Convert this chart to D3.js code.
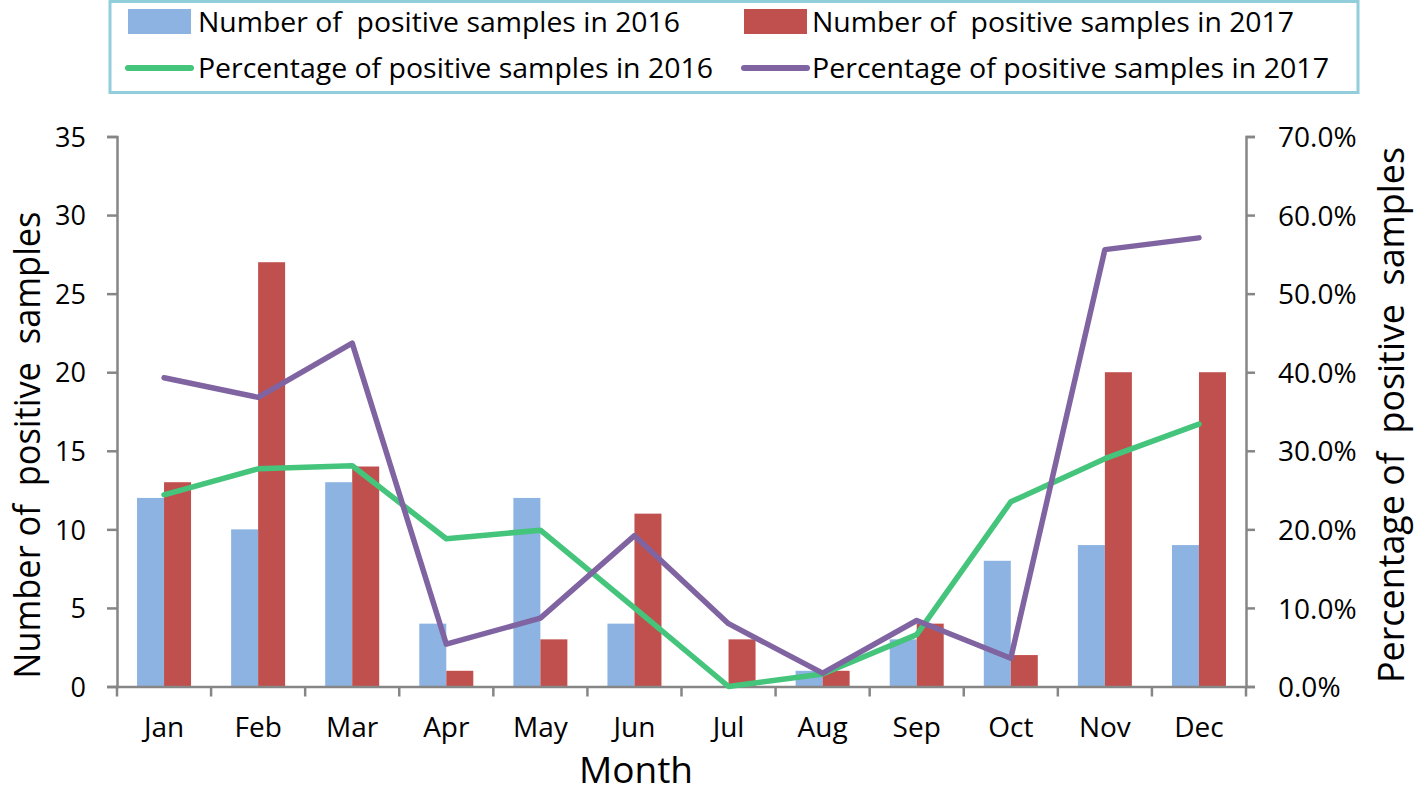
<!DOCTYPE html>
<html><head><meta charset="utf-8">
<script src="https://cdn.jsdelivr.net/npm/d3@7/dist/d3.min.js"></script>
<style>body{margin:0;background:#fff}svg{display:block}text{white-space:pre}</style>
</head><body><svg id="c" width="1418" height="794"></svg>
<script>
const months = ["Jan","Feb","Mar","Apr","May","Jun","Jul","Aug","Sep","Oct","Nov","Dec"];
const count2016 = [12,10,13,4,12,4,0,1,3,8,9,9];
const count2017 = [13,27,14,1,3,11,3,1,4,2,20,20];
const pct2016 = [24.4,27.7,28.1,18.8,19.9,10.0,0.0,1.6,6.6,23.5,29.0,33.4];
const pct2017 = [39.3,36.8,43.7,5.4,8.7,19.2,8.0,1.7,8.4,3.6,55.6,57.1];
const leftTicks = [0,5,10,15,20,25,30,35];
const rightTicks = [0,10,20,30,40,50,60,70];
const legendLabels = ["Number of  positive samples in 2016","Number of  positive samples in 2017","Percentage of positive samples in 2016","Percentage of positive samples in 2017"];

const colBlue="#8db3e2", colRed="#c0504d", colGreen="#45c47c", colPurple="#8064a2", axisCol="#868686";
const svg = d3.select("#c");
const L=117, R=1246, T=136.5, B=686.5;
const x = d3.scaleBand().domain(months).range([L,R]).paddingInner(0.426).paddingOuter(0.213);
const xs = d3.scaleBand().domain(["a","b"]).range([0,x.bandwidth()]);
const xc = d3.scaleBand().domain(months).range([L,R]);
const y = d3.scaleLinear().domain([0,35]).range([B,T]);
const y2 = d3.scaleLinear().domain([0,70]).range([B,T]);
const font = "'Open Sans', 'DejaVu Sans', sans-serif";

// bars
const g = svg.append("g");
g.selectAll(".b1").data(months).enter().append("rect")
  .attr("x",(d)=>x(d)+xs("a")).attr("width",xs.bandwidth())
  .attr("y",(d,i)=>y(count2016[i])).attr("height",(d,i)=>B-y(count2016[i])).attr("fill",colBlue);
g.selectAll(".b2").data(months).enter().append("rect")
  .attr("x",(d)=>x(d)+xs("b")).attr("width",xs.bandwidth())
  .attr("y",(d,i)=>y(count2017[i])).attr("height",(d,i)=>B-y(count2017[i])).attr("fill",colRed);

// axes
const axL = svg.append("g").attr("transform",`translate(${L},0)`)
  .call(d3.axisLeft(y).tickValues(leftTicks).tickSize(10).tickPadding(21).tickFormat(d3.format("d")));
const axR = svg.append("g").attr("transform",`translate(${R},0)`)
  .call(d3.axisRight(y2).tickValues(rightTicks).tickSize(9).tickPadding(23).tickFormat(d=>d.toFixed(1)+"%"));
const axB = svg.append("g").attr("transform",`translate(0,${B})`)
  .call(d3.axisBottom(xc).tickSize(0).tickPadding(32));
// boundary ticks on x axis
svg.append("g").selectAll("line").data(d3.range(13)).enter().append("line")
  .attr("x1",i=>L+i*xc.step()).attr("x2",i=>L+i*xc.step()).attr("y1",B).attr("y2",B+10)
  .attr("stroke",axisCol).attr("stroke-width",2.5);
[axL,axR,axB].forEach(a=>{
  a.selectAll("path,line").attr("stroke",axisCol).attr("stroke-width",2.5);
  a.selectAll("text").attr("font-family",font).attr("fill","#000");
});
axL.selectAll("text").attr("font-size",27).attr("dy","0.36em");
axR.selectAll("text").attr("font-size",28).attr("dy","0.36em").attr("text-anchor","start");
axB.selectAll("text").attr("font-size",28).attr("y",737-B).attr("dy",0);
axB.select(".domain").attr("d",`M${L},0.5H${R}`);

// lines
const line = (arr)=>d3.line().x((d,i)=>xc(months[i])+xc.bandwidth()/2).y(d=>y2(d))(arr);
svg.append("path").attr("d",line(pct2016)).attr("fill","none").attr("stroke",colGreen).attr("stroke-width",5.5).attr("stroke-linejoin","round").attr("stroke-linecap","round");
svg.append("path").attr("d",line(pct2017)).attr("fill","none").attr("stroke",colPurple).attr("stroke-width",5.5).attr("stroke-linejoin","round").attr("stroke-linecap","round");

// axis titles
svg.append("text").attr("transform",`translate(40,445) rotate(-90)`).attr("text-anchor","middle")
  .attr("font-family",font).attr("font-size",37).attr("textLength",467).attr("lengthAdjust","spacingAndGlyphs")
  .text("Number of  positive  samples");
svg.append("text").attr("transform",`translate(1404,415) rotate(-90)`).attr("text-anchor","middle")
  .attr("font-family",font).attr("font-size",36).attr("textLength",536).attr("lengthAdjust","spacingAndGlyphs")
  .text("Percentage of  positive  samples");
svg.append("text").attr("x",636).attr("y",783).attr("text-anchor","middle")
  .attr("font-family",font).attr("font-size",37).text("Month");

// legend
const lg = svg.append("g");
lg.append("rect").attr("x",110).attr("y",1.5).attr("width",1248).attr("height",91).attr("fill","#fff").attr("stroke","#92cddc").attr("stroke-width",3);
const items = [
  {lab:legendLabels[0], type:"rect", col:colBlue, sx:128, tx:198, ty:22, tw:482},
  {lab:legendLabels[1], type:"rect", col:colRed, sx:744, tx:812, ty:22, tw:482},
  {lab:legendLabels[2], type:"line", col:colGreen, sx:128, tx:198, ty:68, tw:515},
  {lab:legendLabels[3], type:"line", col:colPurple, sx:744, tx:812, ty:68, tw:517}
];
items.forEach(it=>{
  if(it.type==="rect") lg.append("rect").attr("x",it.sx).attr("y",it.ty-13).attr("width",63).attr("height",25).attr("fill",it.col);
  else lg.append("line").attr("x1",it.sx).attr("x2",it.sx+63).attr("y1",it.ty).attr("y2",it.ty).attr("stroke",it.col).attr("stroke-width",6).attr("stroke-linecap","round");
  lg.append("text").attr("x",it.tx).attr("y",it.ty).attr("dy","0.36em").attr("font-family",font).attr("font-size",28)
    .attr("textLength",it.tw).attr("lengthAdjust","spacingAndGlyphs").text(it.lab);
});
</script></body></html>
